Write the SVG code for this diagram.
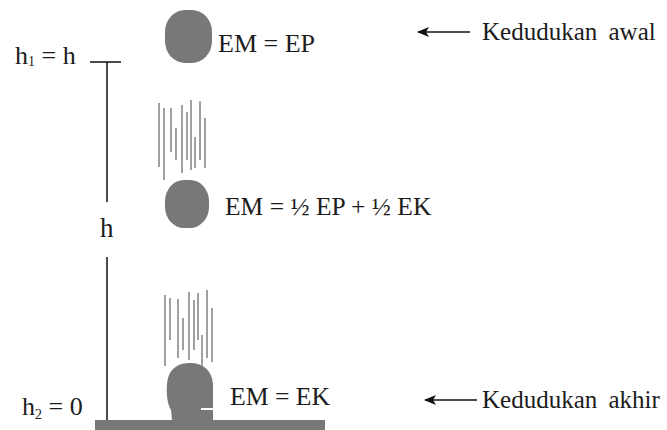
<svg xmlns="http://www.w3.org/2000/svg" width="667" height="430" viewBox="0 0 667 430">
  <defs>
    <marker id="head" viewBox="0 0 12 10" refX="11" refY="5" markerWidth="12" markerHeight="10" markerUnits="userSpaceOnUse" orient="auto">
      <path d="M0,0 L12,5 L0,10 L3,5 Z" fill="#111"/>
    </marker>
  </defs>
  <rect width="667" height="430" fill="#fff"/>

  <!-- height scale -->
  <g id="scale">
    <g stroke="#111" stroke-width="1.5" fill="none">
      <line x1="90" y1="62" x2="121" y2="62"/>
      <line x1="107" y1="62" x2="107" y2="202"/>
      <line x1="107" y1="257" x2="107" y2="420"/>
    </g>
    <text x="15" y="64" font-size="26" font-family="'Liberation Serif', serif" fill="#1c1c1c">h<tspan font-size="14" dy="2">1</tspan><tspan dy="-2"> = h</tspan></text>
    <text x="100" y="237" font-size="27" font-family="'Liberation Serif', serif" fill="#1c1c1c">h</text>
    <text x="22" y="415" font-size="26" font-family="'Liberation Serif', serif" fill="#1c1c1c">h<tspan font-size="14" dy="4">2</tspan><tspan dy="-4"> = 0</tspan></text>
  </g>

  <!-- ground -->
  <g id="ground">
    <rect x="95" y="420" width="230" height="10" fill="#787878"/>
  </g>

  <!-- ball at top -->
  <g id="ball-top">
    <rect x="165" y="10" width="47" height="53" rx="20" ry="22" fill="#787878"/>
    <text x="218" y="52" font-size="26" font-family="'Liberation Serif', serif" fill="#1c1c1c">EM = EP</text>
  </g>

  <!-- ball halfway, with motion streaks -->
  <g id="ball-middle">
    <g stroke="#8a8a8a" stroke-width="1.6" fill="none">
      <line x1="159" y1="103" x2="159" y2="167"/>
      <line x1="164" y1="108" x2="164" y2="180"/>
      <line x1="171" y1="108" x2="171" y2="152"/>
      <line x1="176" y1="128" x2="176" y2="160"/>
      <line x1="182" y1="105" x2="182" y2="173"/>
      <line x1="187" y1="112" x2="187" y2="160"/>
      <line x1="191" y1="100" x2="191" y2="170"/>
      <line x1="195" y1="137" x2="195" y2="168"/>
      <line x1="200" y1="101" x2="200" y2="160"/>
      <line x1="205" y1="118" x2="205" y2="168"/>
    </g>
    <rect x="165" y="180" width="44" height="48" rx="19" ry="21" fill="#787878"/>
    <text x="225" y="215" font-size="25.5" font-family="'Liberation Serif', serif" fill="#1c1c1c">EM = ½ EP + ½ EK</text>
  </g>

  <!-- ball on the ground, with motion streaks -->
  <g id="ball-bottom">
    <g stroke="#8a8a8a" stroke-width="1.6" fill="none">
      <line x1="165" y1="295" x2="165" y2="366"/>
      <line x1="170" y1="298" x2="170" y2="340"/>
      <line x1="178" y1="299" x2="178" y2="358"/>
      <line x1="183" y1="318" x2="183" y2="350"/>
      <line x1="189" y1="292" x2="189" y2="360"/>
      <line x1="194" y1="300" x2="194" y2="350"/>
      <line x1="198" y1="293" x2="198" y2="340"/>
      <line x1="202" y1="335" x2="202" y2="366"/>
      <line x1="207" y1="290" x2="207" y2="358"/>
      <line x1="212" y1="308" x2="212" y2="362"/>
    </g>
    <path fill="#787878" d="M172,420 L171,410 C166,402 166,386 168,378 C171,367 180,363 190,363 C204,363 212,371 213,384 L213,420 Z"/>
    <line x1="201" y1="409" x2="213" y2="409" stroke="#fff" stroke-width="2"/>
    <text x="230" y="405" font-size="25.7" font-family="'Liberation Serif', serif" fill="#1c1c1c">EM = EK</text>
  </g>

  <!-- position labels -->
  <g id="label-start">
    <text x="482" y="40" font-size="25" word-spacing="5" font-family="'Liberation Serif', serif" fill="#1c1c1c">Kedudukan awal</text>
  </g>
  <g id="label-end">
    <text x="482" y="408" font-size="25" word-spacing="5" font-family="'Liberation Serif', serif" fill="#1c1c1c">Kedudukan akhir</text>
  </g>

  <g id="connectors" stroke="#111" stroke-width="1.6" fill="none">
    <line x1="470" y1="32" x2="418" y2="32" marker-end="url(#head)"/>
    <line x1="477" y1="400" x2="425" y2="400" marker-end="url(#head)"/>
  </g>
</svg>
